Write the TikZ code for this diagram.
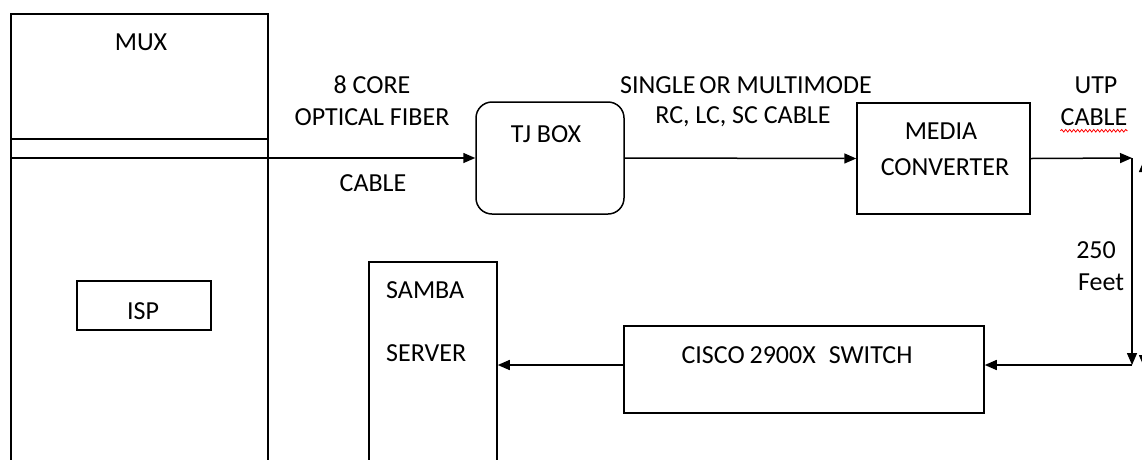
\documentclass[tikz,border=0pt]{standalone}
\usepackage{fontspec}
\setmainfont{Carlito}
\usetikzlibrary{arrows.meta,decorations.pathmorphing}
\begin{document}
\begin{tikzpicture}[x=1pt,y=-1pt,
  box/.style={draw,line width=1.5pt,inner sep=0pt,rectangle},
  txt/.style={inner sep=0pt,font=\fontsize{26}{30}\selectfont,text=black},
  arr/.style={line width=1.5pt,-{Triangle[length=12pt,width=10pt]}},
  dbl/.style={line width=1.5pt,{Triangle[length=12pt,width=10pt]}-{Triangle[length=12pt,width=10pt]}}]
\useasboundingbox (0,0) rectangle (1142,459);
\clip (0,0) rectangle (1142,459);
% boxes
\node[box,minimum width=257pt,minimum height=486pt] (mux) at (139.5,257) {};
\draw[line width=1.5pt] (mux.west |- 0,139) -- (mux.east |- 0,139);
\node[box,minimum width=134pt,minimum height=49pt] (isp) at (144,305.5) {};
\node[box,rounded corners=16pt,minimum width=148pt,minimum height=112pt] (tj) at (550,158) {};
\node[box,minimum width=173pt,minimum height=111pt] (mc) at (943.5,158.5) {};
\node[box,minimum width=360pt,minimum height=87pt] (sw) at (804,369.5) {};
\node[box,minimum width=128pt,minimum height=240pt] (samba) at (433,382) {};
% texts
\node[txt] (tmux) at (141,42) {MUX};
\node[txt] (tisp) at (143,311) {ISP};
\node[txt] (ttj) at (546,134) {TJ BOX};
\node[txt] (tmc1) at (941,131) {MEDIA};
\node[txt] (tmc2) at (945,167) {CONVERTER};
\node[txt] (tsw) at (797,355) {CISCO\kern-1pt\ 2900X\enspace SWITCH};
\node[txt,anchor=west] (tsa1) at (386,290) {SAMBA};
\node[txt,anchor=west] (tsa2) at (386,353) {SERVER};
\node[txt] (l1) at (372,85) {8 CORE};
\node[txt] (l2) at (372,117) {OPTICAL FIBER};
\node[txt] (l3) at (373,183) {CABLE};
\node[txt] (l4) at (746,85) {SINGLE\kern-2pt\ OR MULTIMODE};
\node[txt] (l5) at (743,117) {RC, LC, SC CABLE};
\node[txt] (l6) at (1096,85) {UTP};
\node[txt] (l7) at (1094,117) {CABLE};
\node[txt] (l8) at (1096,250) {250};
\node[txt] (l9) at (1101,282) {Feet};
\draw[red,line width=0.8pt,decorate,decoration={snake,segment length=4pt,amplitude=1.3pt}]
  ([yshift=-5pt]l7.south west) -- ([yshift=-5pt]l7.south east);
% connectors
\coordinate (muxL) at (11,158);
\coordinate (r1) at (1132,158);
\coordinate (r2) at (1132,365);
\coordinate (c1) at (1144,160);
\coordinate (c2) at (1144,367);
\draw[arr] (muxL) -- (tj.west);
\draw[arr] (tj.east) -- (mc.west);
\draw[arr] (mc.east) -- (r1);
\draw[arr] (r1) -- (r2);
\draw[arr] (r2) -- (sw.east |- r2);
\draw[arr] (sw.west |- r2) -- (samba.east |- r2);
\draw[dbl] (c1) -- (c2);
\end{tikzpicture}
\end{document}
